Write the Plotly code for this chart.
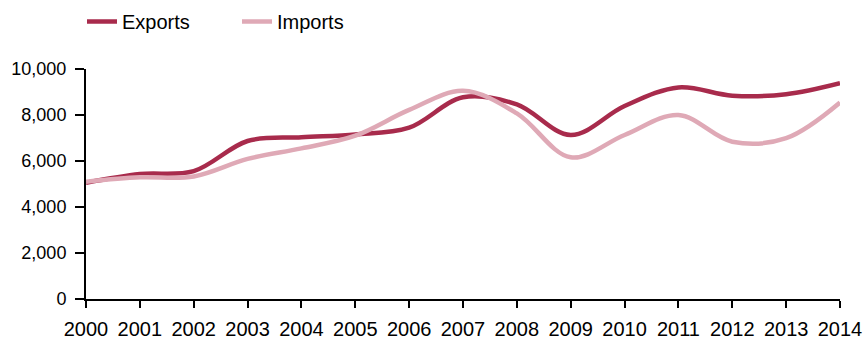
import plotly.graph_objects as go

years = list(range(2000, 2015))
exports = [5050, 5430, 5560, 6870, 7030, 7150, 7450, 8770, 8460, 7130, 8390, 9200, 8840, 8900, 9380]
imports = [5100, 5290, 5330, 6090, 6550, 7100, 8220, 9050, 8070, 6160, 7130, 8000, 6840, 6990, 8540]
y_ticks = [0, 2000, 4000, 6000, 8000, 10000]

fig = go.Figure()
fig.add_trace(go.Scatter(x=years, y=exports, name="Exports", mode="lines",
                         line=dict(color="#A82B4C", width=4.5, shape="spline", smoothing=1)))
fig.add_trace(go.Scatter(x=years, y=imports, name="Imports", mode="lines",
                         line=dict(color="#DFA9B6", width=4.5, shape="spline", smoothing=1)))

fam = "Liberation Sans, Arial, sans-serif"
font = dict(family=fam, size=20, color="#000000")
fig.update_layout(
    width=867, height=340,
    margin=dict(l=86, r=27, t=69, b=41, autoexpand=False),
    paper_bgcolor="white", plot_bgcolor="white",
    font=font,
    showlegend=True,
    legend=dict(orientation="h", xref="container", yref="container", x=82 / 867, y=1 - 2 / 340,
                xanchor="left", yanchor="top", font=font, itemwidth=30, entrywidth=110,
                bgcolor="rgba(0,0,0,0)", borderwidth=0),
    xaxis=dict(range=[2000, 2014], tickvals=years, ticktext=[str(y) for y in years],
               showgrid=False, zeroline=False, showline=True, linecolor="black", linewidth=2,
               ticks="outside", ticklen=7, tickwidth=2, tickcolor="black", fixedrange=True,
               ticklabelstandoff=4, automargin=False, tickfont=dict(family=fam, size=20)),
    yaxis=dict(range=[0, 10000], tickvals=y_ticks, ticktext=[f"{v:,}" for v in y_ticks],
               showgrid=False, zeroline=False, showline=True, linecolor="black", linewidth=2,
               ticks="outside", ticklen=9, tickwidth=2, tickcolor="black", fixedrange=True,
               ticklabelstandoff=5, automargin=False, tickfont=dict(family=fam, size=18)),
)
fig.write_html("out.html", config={"displayModeBar": False},
               post_script="document.body.style.margin='0';")
